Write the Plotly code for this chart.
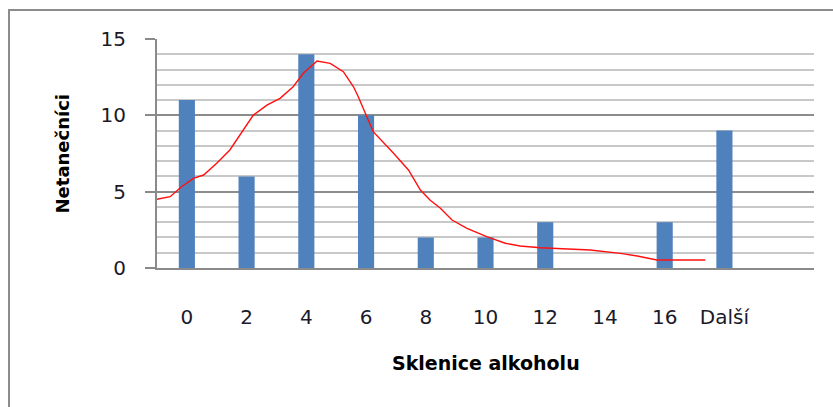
import plotly.graph_objects as go

# --- data ---
categories = ["0", "2", "4", "6", "8", "10", "12", "14", "16", "Další"]
counts = [11, 6, 14, 10, 2, 2, 3, 0, 3, 9]
# smoothed trend line, x in category-index units
trend_x = [-0.5, -0.28, -0.09, 0.11, 0.28, 0.5, 0.72, 0.89, 1.11, 1.34, 1.56, 1.78, 1.95,
           2.18, 2.40, 2.62, 2.79, 2.87, 3.01, 3.12, 3.46, 3.71, 3.91, 4.07, 4.24, 4.44,
           4.69, 5.02, 5.33, 5.58, 5.92, 6.75, 7.26, 7.54, 7.87, 8.68]
trend_y = [4.5, 4.67, 5.32, 5.87, 6.09, 6.86, 7.73, 8.71, 10.0, 10.67, 11.11, 11.87, 12.75,
           13.56, 13.40, 12.86, 11.87, 11.22, 9.91, 8.93, 7.51, 6.42, 5.11, 4.45, 3.93, 3.14,
           2.60, 2.05, 1.62, 1.44, 1.33, 1.18, 0.96, 0.79, 0.52, 0.52]
y_ticks = [0, 5, 10, 15]
x_title = "Sklenice alkoholu"
y_title = "Netanečníci"

W, H = 833, 407
L, R, T, B = 157, 814, 39, 268
pw, ph = R - L, B - T

def px(x):
    return (x - L) / pw

def py(y):
    return (B - y) / ph

idx = list(range(len(categories)))

fig = go.Figure()
fig.add_trace(go.Bar(x=idx, y=counts, width=0.27, marker=dict(color="#4F81BD", line=dict(width=0)),
                     showlegend=False))
fig.add_trace(go.Scatter(x=trend_x, y=trend_y, mode="lines", line=dict(color="#FF1010", width=1.4),
                         showlegend=False))

tick_font = dict(family="DejaVu Sans", size=20, color="#1a1a2a")
fig.update_layout(
    width=W, height=H,
    margin=dict(l=L, r=W - R, t=T, b=H - B),
    paper_bgcolor="white", plot_bgcolor="white",
    xaxis=dict(range=[-0.5, 10.5], tickmode="array", tickvals=idx, ticktext=categories,
               showgrid=False, zeroline=False, showline=True, linecolor="#8a8a8a", linewidth=2,
               ticks="", tickfont=tick_font, ticklabelstandoff=30, fixedrange=True),
    yaxis=dict(range=[0, 15], tickmode="array", tickvals=y_ticks, showgrid=True,
               gridcolor="#8c8c8c", gridwidth=1.5, zeroline=False, showline=True,
               linecolor="#8a8a8a", linewidth=2, ticks="outside", ticklen=10, tickcolor="#8a8a8a",
               tickwidth=1.5, tickfont=tick_font, ticklabelstandoff=15,
               minor=dict(dtick=1, showgrid=True, gridcolor="#c8c8c8", gridwidth=1.5)),
    bargap=0.73,
    annotations=[
        dict(text=y_title, xref="paper", yref="paper", x=px(62), y=0.5, textangle=-90,
             showarrow=False, font=dict(family="DejaVu Sans", size=18, color="black", weight="bold"),
             xanchor="center", yanchor="middle"),
        dict(text=x_title, xref="paper", yref="paper", x=px(486), y=py(363),
             showarrow=False, font=dict(family="DejaVu Sans", size=19, color="black", weight="bold"),
             xanchor="center", yanchor="middle"),
    ],
    shapes=[dict(type="rect", xref="paper", yref="paper", x0=px(9), x1=px(845), y0=py(420), y1=py(10),
                 line=dict(color="#8c8c8c", width=2), layer="below")],
)

fig.write_html("out.html", post_script="document.body.style.margin='0';",
               config={"displayModeBar": False})
